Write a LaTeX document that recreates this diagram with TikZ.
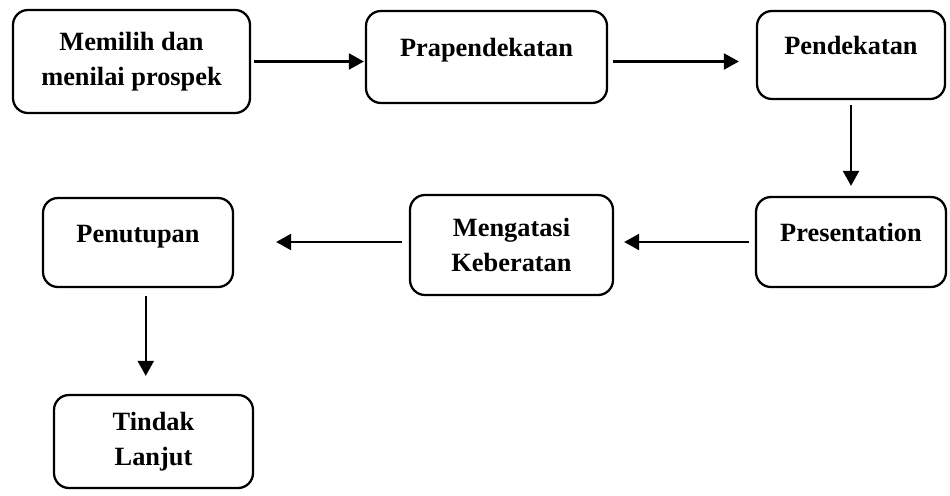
\documentclass[tikz,border=0pt]{standalone}
\usepackage{fontspec}
\setmainfont{Liberation Serif}
\usepackage{tikz}
\usetikzlibrary{arrows.meta, positioning, calc}
\tikzset{
  stepbox/.style={
    draw, rounded corners=0.3cm, line width=1.3pt, align=center,
    inner sep=0pt, font=\fontsize{15pt}{19.9pt}\selectfont\bfseries, fill=white
  },
  upperline/.style={text height=0.4cm, text depth=0.42cm},
  steparrow/.style={-{Triangle[length=3mm, width=3.2mm]}, line width=1.3pt},
}

\begin{document}
\begin{tikzpicture}
  \useasboundingbox (0,0) rectangle (19,-9.9);
  % top row
  \node[stepbox, minimum width=4.74cm, minimum height=2.06cm] (mp) at (2.63,-1.23) {Memilih dan\\menilai prospek};
  \node[stepbox, upperline, minimum width=4.82cm, minimum height=1.84cm] (pp) at (9.73,-1.14) {Prapendekatan};
  \node[stepbox, upperline, minimum width=3.76cm, minimum height=1.76cm] (pd) at (17.02,-1.10) {Pendekatan};
  % middle row
  \node[stepbox, upperline, minimum width=3.80cm, minimum height=1.80cm] (ps) at (17.02,-4.84) {Presentation};
  \node[stepbox, minimum width=4.06cm, minimum height=2.00cm] (mk) at (10.23,-4.90) {Mengatasi\\Keberatan};
  \node[stepbox, upperline, minimum width=3.80cm, minimum height=1.78cm] (pt) at (2.76,-4.85) {Penutupan};
  % bottom
  \node[stepbox, minimum width=3.98cm, minimum height=1.86cm] (tl) at (3.07,-8.83) {Tindak\\Lanjut};

  \draw[steparrow, shorten <=0.06cm, shorten >=0.02cm] (mp.east) -- (mp.east -| pp.west);
  \draw[steparrow, shorten <=0.1cm, shorten >=0.34cm] (pp.east |- mp.east) -- (mp.east -| pd.west);
  \draw[steparrow, shorten <=0.1cm, shorten >=0.2cm] (pd.south) -- (ps.north);
  \draw[steparrow, shorten <=0.12cm, shorten >=0.2cm] (ps.west) -- (ps.west -| mk.east);
  \draw[steparrow, shorten <=0.14cm, shorten >=0.84cm] (mk.west |- ps.west) -- (ps.west -| pt.east);
  \path (pt.south) -- (tl.north) coordinate[pos=0.5] (mid);
  \draw[steparrow, shorten <=0.16cm, shorten >=0.36cm] (pt.south -| mid) -- (tl.north -| mid);
\end{tikzpicture}
\end{document}
